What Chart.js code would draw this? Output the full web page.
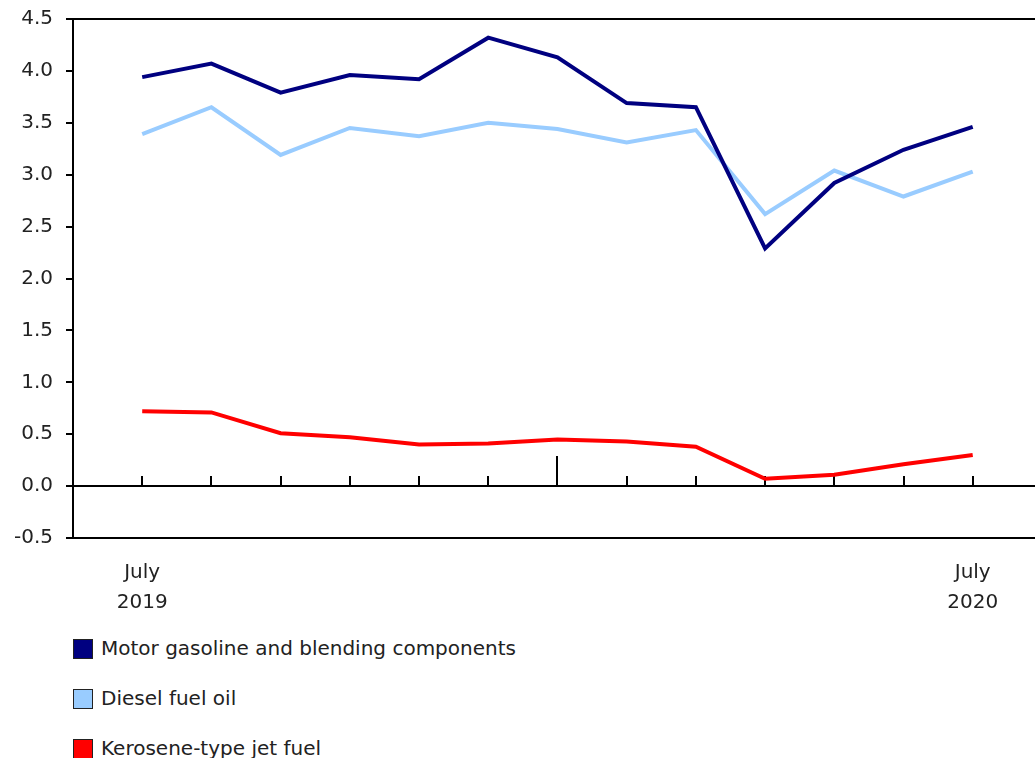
<!DOCTYPE html>
<html>
<head>
<meta charset="utf-8">
<script src="https://cdn.jsdelivr.net/npm/chart.js@4.4.1/dist/chart.umd.min.js"></script>
<style>
  html, body { margin: 0; padding: 0; background: #fff; overflow: hidden; width: 1035px; height: 758px; }
  #wrap { position: absolute; left: 0; top: -6px; width: 1035px; height: 631px; }
  .legend { position: absolute; left: 73px; top: 0; font-family: "DejaVu Sans", Verdana, sans-serif; font-size: 20px; color: #222; }
  .legend .item { position: absolute; left: 0; white-space: nowrap; height: 20px; line-height: 20px; }
  .legend .box { display: inline-block; width: 20px; height: 20px; border: 1.5px solid #222; vertical-align: -4px; margin-right: 8px; box-sizing: border-box; }
</style>
</head>
<body>
<div id="wrap"><canvas id="chart" width="1035" height="631"></canvas></div>
<div class="legend" id="legend"></div>
<script>
const months = ['July 2019', 'August 2019', 'September 2019', 'October 2019', 'November 2019', 'December 2019',
  'January 2020', 'February 2020', 'March 2020', 'April 2020', 'May 2020', 'June 2020', 'July 2020'];
const gasoline = [3.94, 4.07, 3.79, 3.96, 3.92, 4.32, 4.13, 3.69, 3.65, 2.29, 2.92, 3.24, 3.46];
const diesel = [3.39, 3.65, 3.19, 3.45, 3.37, 3.50, 3.44, 3.31, 3.43, 2.62, 3.04, 2.79, 3.03];
const kerosene = [0.72, 0.71, 0.51, 0.47, 0.40, 0.41, 0.45, 0.43, 0.38, 0.07, 0.11, 0.21, 0.30];
const seriesNames = ['Motor gasoline and blending components', 'Diesel fuel oil', 'Kerosene-type jet fuel'];
const seriesColors = ['#000080', '#99ccff', '#ff0000'];
const yTicks = [-0.5, 0, 0.5, 1, 1.5, 2, 2.5, 3, 3.5, 4, 4.5];

const toPoints = arr => arr.map((v, i) => ({ x: i, y: v }));
const fontFamily = "'DejaVu Sans', Verdana, sans-serif";

const zeroLine = {
  id: 'zeroLine',
  beforeDatasetsDraw(chart) {
    const { ctx, chartArea, scales } = chart;
    const y0 = Math.round(scales.y.getPixelForValue(0));
    ctx.save();
    ctx.strokeStyle = '#000';
    ctx.lineWidth = 2;
    ctx.beginPath();
    ctx.moveTo(chartArea.left, y0);
    ctx.lineTo(chartArea.right, y0);
    ctx.moveTo(chartArea.left, chartArea.top);
    ctx.lineTo(chartArea.right, chartArea.top);
    ctx.stroke();
    months.forEach((m, i) => {
      const x = Math.round(scales.x.getPixelForValue(i));
      const len = m.startsWith('January') ? 30 : 10;
      ctx.beginPath();
      ctx.moveTo(x, y0);
      ctx.lineTo(x, y0 - len);
      ctx.stroke();
    });
    ctx.restore();
  }
};

new Chart(document.getElementById('chart'), {
  type: 'line',
  data: {
    datasets: [gasoline, diesel, kerosene].map((arr, k) => ({
      label: seriesNames[k],
      data: toPoints(arr),
      borderColor: seriesColors[k],
      backgroundColor: seriesColors[k],
      borderWidth: 4,
      pointRadius: 0,
      tension: 0,
    })),
  },
  options: {
    responsive: false,
    animation: false,
    layout: { padding: { top: 5, right: 0, left: 0, bottom: 0 } },
    plugins: { legend: { display: false }, tooltip: { enabled: false } },
    scales: {
      x: {
        type: 'linear',
        min: -1,
        max: 12.9,
        afterFit(scale) { scale.height = 87; },
        afterBuildTicks(scale) { scale.ticks = [{ value: 0 }, { value: 12 }]; },
        ticks: {
          padding: 12,
          maxRotation: 0,
          autoSkip: false,
          color: '#222',
          font: { family: fontFamily, size: 20, lineHeight: 1.5 },
          callback: v => {
            const parts = months[v].split(' ');
            return [parts[0], parts[1]];
          },
        },
        grid: { display: false },
        border: { display: true, color: '#000', width: 2 },
      },
      y: {
        min: -0.5,
        max: 4.5,
        afterFit(scale) { scale.width = 73; },
        afterBuildTicks(scale) { scale.ticks = yTicks.map(v => ({ value: v })); },
        ticks: {
          padding: 13,
          color: '#222',
          font: { family: fontFamily, size: 20 },
          callback: v => v.toFixed(1),
        },
        grid: { drawOnChartArea: false, drawTicks: true, tickLength: 7, color: '#000', lineWidth: 2 },
        border: { display: true, color: '#000', width: 2 },
      },
    },
  },
  plugins: [zeroLine],
});

const legend = document.getElementById('legend');
seriesNames.forEach((name, k) => {
  const item = document.createElement('div');
  item.className = 'item';
  item.style.top = (638 + k * 50) + 'px';
  const box = document.createElement('span');
  box.className = 'box';
  box.style.background = seriesColors[k];
  item.appendChild(box);
  item.appendChild(document.createTextNode(name));
  legend.appendChild(item);
});
</script>
</body>
</html>
